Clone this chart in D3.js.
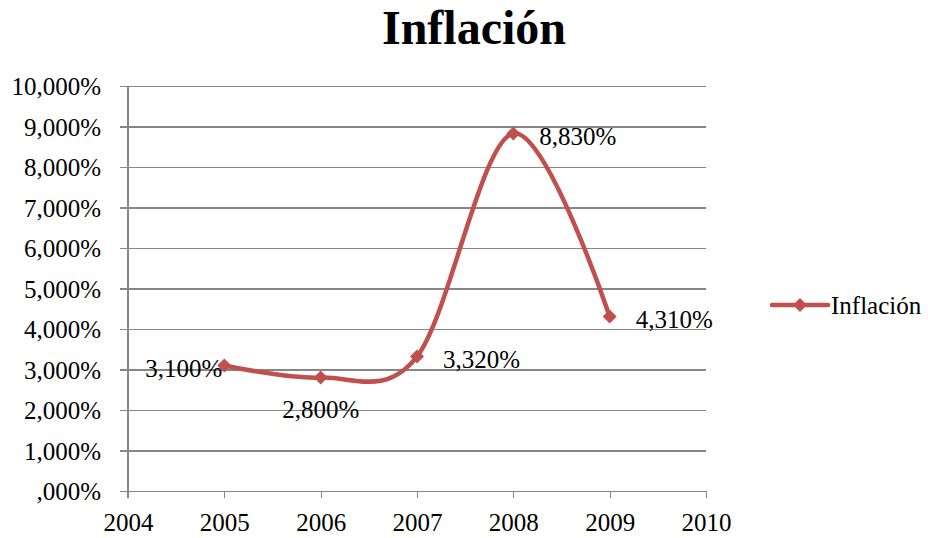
<!DOCTYPE html>
<html>
<head>
<meta charset="utf-8">
<script src="https://cdn.jsdelivr.net/npm/d3@7"></script>
<style>
  html, body { margin: 0; padding: 0; background: #fff; }
  svg text { font-family: "Liberation Serif", "Times New Roman", Times, serif; }
</style>
</head>
<body>
<svg id="chart" width="928" height="538"></svg>
<script>
// Inflation by year
const years = [2005, 2006, 2007, 2008, 2009];
const inflation = [3.10, 2.80, 3.32, 8.83, 4.31];
const labelPlacement = ["left", "below", "right", "right", "right"];
const xTicks = [2004, 2005, 2006, 2007, 2008, 2009, 2010];
const yTicks = [0, 1, 2, 3, 4, 5, 6, 7, 8, 9, 10];
const seriesName = "Inflación";
const chartTitle = "Inflación";

const color = "#C0504D";
const gridColor = "#868686";
const fontSize = 25;

const svg = d3.select("#chart");
const margin = { left: 128, right: 222, top: 86, bottom: 47 };
const W = 928, H = 538;

const x = d3.scaleLinear().domain([2004, 2010]).range([margin.left, W - margin.right]);
const y = d3.scaleLinear().domain([0, 10]).range([H - margin.bottom, margin.top]);

// Spanish number format: comma as decimal separator, three decimals
const pct = v => {
  const s = d3.format(".3f")(v).replace(".", ",");
  return (s.startsWith("0,") ? s.slice(1) : s) + "%";
};

// Title
svg.append("text")
  .attr("x", 474).attr("y", 44)
  .attr("text-anchor", "middle")
  .attr("font-size", 48).attr("font-weight", "bold")
  .text(chartTitle);

// Horizontal gridlines with y-axis
const yAxis = d3.axisLeft(y).tickValues(yTicks).tickSize(-(x.range()[1] - x.range()[0])).tickFormat(pct).tickPadding(0);
const gy = svg.append("g").attr("transform", `translate(${margin.left},0)`).call(yAxis);
gy.attr("font-family", null).attr("font-size", null);
gy.select(".domain").remove();
gy.selectAll(".tick line")
  .attr("x1", -8)
  .attr("stroke", gridColor).attr("stroke-width", 1.3).attr("shape-rendering", "crispEdges");
gy.selectAll(".tick text")
  .attr("x", -27).attr("dy", "0.35em")
  .attr("font-size", fontSize).attr("fill", "#000");

// Vertical axis line
svg.append("line")
  .attr("x1", margin.left).attr("x2", margin.left)
  .attr("y1", y(10)).attr("y2", y(0) + 7)
  .attr("stroke", gridColor).attr("stroke-width", 1.3).attr("shape-rendering", "crispEdges");

// X axis
const xAxis = d3.axisBottom(x).tickValues(xTicks).tickFormat(d3.format("d")).tickSize(7);
const gx = svg.append("g").attr("transform", `translate(0,${y(0)})`).call(xAxis);
gx.attr("font-family", null).attr("font-size", null);
gx.select(".domain").attr("stroke", gridColor).attr("stroke-width", 1.3).attr("shape-rendering", "crispEdges");
gx.selectAll(".tick line").attr("stroke", gridColor).attr("stroke-width", 1.3).attr("shape-rendering", "crispEdges");
gx.selectAll(".tick text")
  .attr("y", 40).attr("dy", 0)
  .attr("font-size", fontSize).attr("fill", "#000");

// Smoothed series line
const data = years.map((yr, i) => ({ year: yr, value: inflation[i], place: labelPlacement[i] }));
const line = d3.line()
  .x(d => x(d.year)).y(d => y(d.value))
  .curve(d3.curveCardinal.tension(0));
svg.append("path")
  .datum(data)
  .attr("d", line)
  .attr("fill", "none")
  .attr("stroke", color).attr("stroke-width", 4.5)
  .attr("stroke-linejoin", "round").attr("stroke-linecap", "round");

// Diamond markers
const diamond = r => `M0,${-r}L${r},0L0,${r}L${-r},0Z`;
svg.selectAll(".marker")
  .data(data).enter().append("path")
  .attr("class", "marker")
  .attr("transform", d => `translate(${x(d.year)},${y(d.value)})`)
  .attr("d", diamond(7))
  .attr("fill", color);

// Data labels
const offsets = {
  left:  { dx: -2, dy: 3, anchor: "end" },
  below: { dx: 0, dy: 32, anchor: "middle" },
  right: { dx: 26, dy: 3, anchor: "start" }
};
svg.selectAll(".label")
  .data(data).enter().append("text")
  .attr("class", "label")
  .attr("x", d => x(d.year) + offsets[d.place].dx)
  .attr("y", d => y(d.value) + offsets[d.place].dy)
  .attr("dy", "0.35em")
  .attr("text-anchor", d => offsets[d.place].anchor)
  .attr("font-size", fontSize)
  .text(d => pct(d.value));

// Legend
const lg = svg.append("g").attr("transform", "translate(772,305)");
lg.append("line").attr("x1", 0).attr("x2", 56).attr("y1", 0).attr("y2", 0)
  .attr("stroke", color).attr("stroke-width", 4.5).attr("stroke-linecap", "round");
lg.append("path").attr("transform", "translate(28,0)").attr("d", diamond(7)).attr("fill", color);
lg.append("text").attr("x", 59).attr("y", 0).attr("dy", "0.35em")
  .attr("font-size", fontSize).text(seriesName);
</script>
</body>
</html>
